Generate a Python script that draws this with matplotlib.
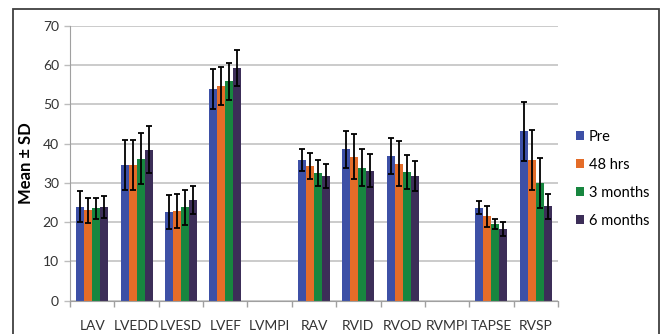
import numpy as np
import matplotlib
matplotlib.use("Agg")
import matplotlib.pyplot as plt
from matplotlib.patches import Rectangle

plt.rcParams["font.family"] = ["Lato", "DejaVu Sans"]

categories = ["LAV", "LVEDD", "LVESD", "LVEF", "LVMPI", "RAV",
              "RVID", "RVOD", "RVMPI", "TAPSE", "RVSP"]
series = ["Pre", "48 hrs", "3 months", "6 months"]
nan = np.nan

pre_mean = [23.9, 34.6, 22.5, 53.9, nan, 35.8, 38.6, 36.9, nan, 23.7, 43.1]
pre_sd = [3.95, 6.3, 4.3, 5.1, nan, 2.9, 4.7, 4.6, nan, 1.65, 7.6]
h48_mean = [23.0, 34.6, 22.8, 54.7, nan, 34.3, 36.7, 34.9, nan, 21.5, 35.8]
h48_sd = [3.2, 6.3, 4.3, 4.8, nan, 3.4, 5.7, 5.7, nan, 2.7, 7.6]
m3_mean = [23.5, 36.1, 23.8, 55.9, nan, 32.5, 33.8, 32.7, nan, 19.5, 29.9]
m3_sd = [2.6, 6.5, 4.5, 4.7, nan, 3.2, 4.7, 4.3, nan, 1.35, 6.4]
m6_mean = [23.8, 38.4, 25.6, 59.2, nan, 31.8, 33.1, 31.8, nan, 18.3, 24.0]
m6_sd = [2.8, 6.0, 3.6, 4.6, nan, 3.1, 4.2, 3.8, nan, 1.8, 3.2]

means = [pre_mean, h48_mean, m3_mean, m6_mean]
sds = [pre_sd, h48_sd, m3_sd, m6_sd]
colors = ["#3d50a6", "#e46c28", "#17863f", "#3c2e58"]

fig = plt.figure(figsize=(6.62, 3.34), dpi=100)
ax = fig.add_axes([70 / 662, 33.3 / 334, 488 / 662, 275 / 334])

x = np.arange(len(categories))
w = 0.18
for i, (m, s, c, name) in enumerate(zip(means, sds, colors, series)):
    pos = x + (i - 1.5) * w
    ax.bar(pos, m, width=w, color=c, label=name, zorder=2)
    ax.errorbar(pos, m, yerr=s, fmt="none", ecolor="black", elinewidth=1.3,
                capsize=2.5, capthick=1.3, zorder=3)

ax.set_xlim(-0.5, len(categories) - 0.5)
ax.set_ylim(0, 70)
ax.set_yticks(np.arange(0, 71, 10))
ax.yaxis.grid(True, color="#bdbdbd", linewidth=1.1, zorder=0)
ax.set_axisbelow(True)

ax.set_xticks(x)
ax.set_xticklabels(categories)
ax.set_xticks(np.arange(-0.5, len(categories), 1), minor=True)
ax.tick_params(axis="x", which="major", length=0, pad=14, labelsize=10, colors="#333333")
ax.tick_params(axis="x", which="minor", length=4, color="#a0a0a0", width=1)
ax.tick_params(axis="y", length=4, color="#bdbdbd", width=1, labelsize=10,
               labelcolor="#333333", pad=4)

for side in ["top", "right"]:
    ax.spines[side].set_visible(False)
ax.spines["left"].set_color("#a0a0a0")
ax.spines["bottom"].set_color("#a0a0a0")

ax.set_ylabel("Mean ± SD", fontsize=12, fontweight="bold", labelpad=6)

ax.legend(loc="upper left", bbox_to_anchor=(576 / 662, 1 - 130 / 334),
          bbox_transform=fig.transFigure, frameon=False, fontsize=10.5,
          handlelength=0.55, handleheight=0.55, handletextpad=0.35,
          labelspacing=0.95, borderaxespad=0, borderpad=0)

fig.patches.append(Rectangle((13 / 662, -0.1), 646 / 662, 1.1 - 9 / 334,
                             transform=fig.transFigure, fill=False,
                             edgecolor="#404040", linewidth=1.3))

fig.savefig("out.png", dpi=100)
